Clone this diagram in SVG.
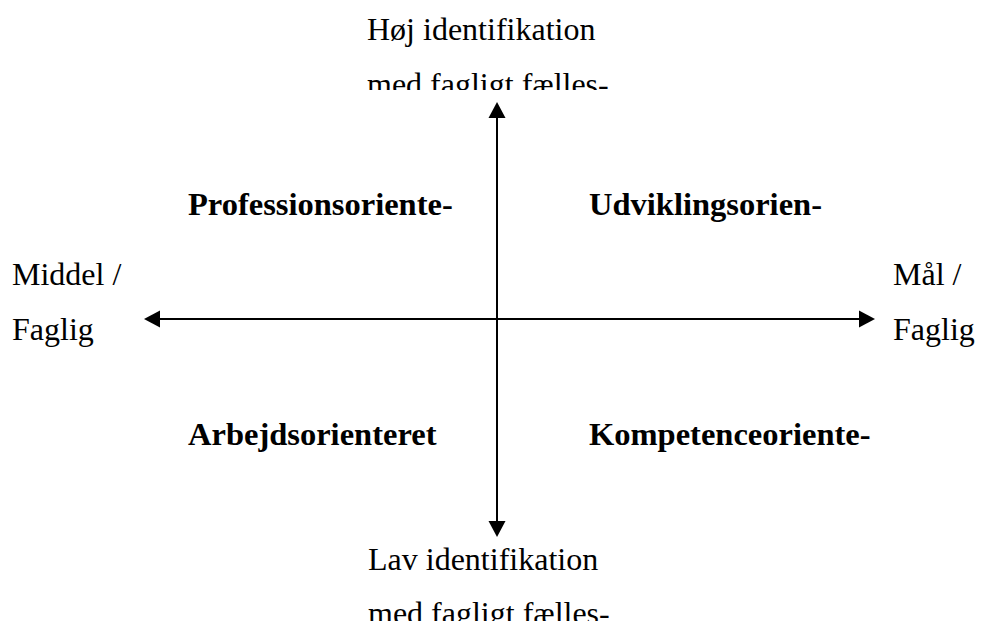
<svg xmlns="http://www.w3.org/2000/svg" width="1003" height="621" viewBox="0 0 1003 621">
  <style>
    .t { font-family: "Liberation Serif", "Times New Roman", serif; font-size: 32px; fill: #000; }
    .b { font-family: "Liberation Serif", "Times New Roman", serif; font-size: 32.5px; font-weight: bold; fill: #000; }
    .ax { stroke: #000; stroke-width: 2; fill: none; }
  </style>
  <defs>
    <marker id="arr" markerUnits="userSpaceOnUse" markerWidth="16" markerHeight="18" refX="14" refY="9" orient="auto-start-reverse">
      <path d="M0,0.5 L16,9 L0,17.5 z" fill="#000"/>
    </marker>
    <clipPath id="clipTop"><rect x="0" y="0" width="1003" height="90"/></clipPath>
  </defs>
  <rect width="1003" height="621" fill="#fff"/>

  <g id="connectors">
    <line class="ax" x1="497" y1="104" x2="497" y2="535" marker-start="url(#arr)" marker-end="url(#arr)"/>
    <line class="ax" x1="146" y1="319" x2="873" y2="319" marker-start="url(#arr)" marker-end="url(#arr)"/>
  </g>

  <g id="top-label">
    <text class="t" x="367" y="40">Høj identifikation</text>
    <text class="t" x="367" y="95" clip-path="url(#clipTop)">med fagligt fælles-</text>
  </g>
  <g id="bottom-label">
    <text class="t" x="368" y="570">Lav identifikation</text>
    <text class="t" x="368" y="624">med fagligt fælles-</text>
  </g>
  <g id="left-label">
    <text class="t" x="12" y="285">Middel /</text>
    <text class="t" x="12" y="340">Faglig</text>
  </g>
  <g id="right-label">
    <text class="t" x="893" y="285">Mål /</text>
    <text class="t" x="893" y="340">Faglig</text>
  </g>

  <g id="q-profession"><text class="b" x="188" y="215">Professionsoriente-</text></g>
  <g id="q-udvikling"><text class="b" x="589" y="215">Udviklingsorien-</text></g>
  <g id="q-arbejd"><text class="b" x="188" y="445">Arbejdsorienteret</text></g>
  <g id="q-kompetence"><text class="b" x="589" y="445">Kompetenceoriente-</text></g>
</svg>
